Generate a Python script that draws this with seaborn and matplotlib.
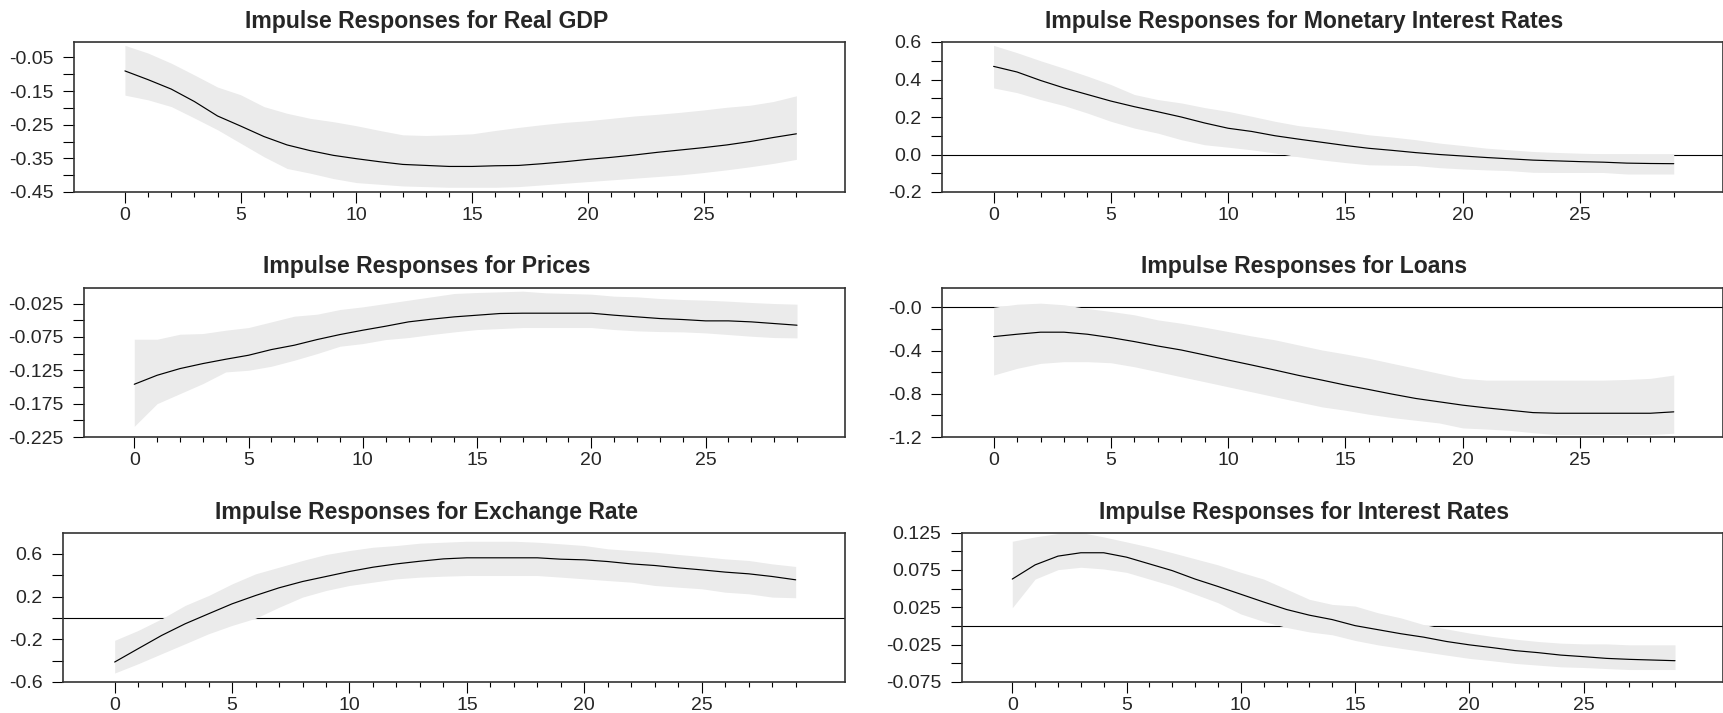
import matplotlib
matplotlib.use("Agg")
import matplotlib.pyplot as plt
import seaborn as sns

# horizon (periods after the shock)
horizon = list(range(30))

titles = [
    "Impulse Responses for Real GDP",
    "Impulse Responses for Monetary Interest Rates",
    "Impulse Responses for Prices",
    "Impulse Responses for Loans",
    "Impulse Responses for Exchange Rate",
    "Impulse Responses for Interest Rates",
]

# Real GDP
gdp_resp = [-0.090, -0.116, -0.144, -0.181, -0.224, -0.254, -0.285, -0.310, -0.327, -0.341,
            -0.351, -0.360, -0.368, -0.371, -0.374, -0.374, -0.372, -0.371, -0.366, -0.360,
            -0.353, -0.347, -0.340, -0.332, -0.325, -0.318, -0.310, -0.300, -0.288, -0.277]
gdp_hi = [-0.014, -0.037, -0.067, -0.102, -0.138, -0.161, -0.196, -0.216, -0.231, -0.241,
          -0.253, -0.267, -0.280, -0.282, -0.280, -0.277, -0.267, -0.258, -0.250, -0.243,
          -0.238, -0.231, -0.224, -0.219, -0.213, -0.206, -0.198, -0.192, -0.181, -0.164]
gdp_lo = [-0.162, -0.176, -0.196, -0.230, -0.265, -0.305, -0.345, -0.380, -0.394, -0.410,
          -0.422, -0.427, -0.432, -0.434, -0.436, -0.436, -0.436, -0.434, -0.429, -0.424,
          -0.419, -0.414, -0.409, -0.404, -0.399, -0.392, -0.384, -0.375, -0.365, -0.353]

# Monetary interest rates
mon_resp = [0.470, 0.440, 0.395, 0.355, 0.320, 0.285, 0.255, 0.228, 0.200, 0.168,
            0.140, 0.123, 0.100, 0.082, 0.065, 0.048, 0.033, 0.022, 0.010, 0.000,
            -0.008, -0.016, -0.023, -0.030, -0.034, -0.038, -0.041, -0.046, -0.048, -0.049]
mon_hi = [0.582, 0.543, 0.500, 0.460, 0.418, 0.373, 0.320, 0.293, 0.275, 0.250,
          0.230, 0.204, 0.177, 0.154, 0.140, 0.123, 0.105, 0.093, 0.079, 0.061,
          0.048, 0.034, 0.025, 0.016, 0.011, 0.007, 0.004, 0.004, 0.003, 0.003]
mon_lo = [0.355, 0.330, 0.293, 0.261, 0.221, 0.177, 0.141, 0.114, 0.079, 0.052,
          0.039, 0.025, 0.008, -0.012, -0.029, -0.043, -0.055, -0.057, -0.059, -0.070,
          -0.077, -0.082, -0.086, -0.095, -0.096, -0.096, -0.096, -0.104, -0.104, -0.104]

# Prices
price_resp = [-0.146, -0.1325, -0.1225, -0.115, -0.1085, -0.1025, -0.094, -0.0875, -0.079, -0.0715,
              -0.065, -0.059, -0.0525, -0.0485, -0.045, -0.0425, -0.040, -0.0395, -0.0395, -0.0395,
              -0.0395, -0.0425, -0.045, -0.0475, -0.049, -0.051, -0.051, -0.0525, -0.055, -0.0575]
price_hi = [-0.0785, -0.0785, -0.071, -0.070, -0.065, -0.061, -0.0525, -0.044, -0.041, -0.034,
            -0.030, -0.025, -0.020, -0.015, -0.010, -0.0085, -0.0075, -0.0065, -0.009, -0.010,
            -0.011, -0.014, -0.015, -0.0175, -0.019, -0.020, -0.0215, -0.0235, -0.025, -0.026]
price_lo = [-0.209, -0.175, -0.160, -0.145, -0.1275, -0.125, -0.119, -0.110, -0.100, -0.089,
            -0.085, -0.079, -0.076, -0.0715, -0.0675, -0.064, -0.0625, -0.061, -0.061, -0.061,
            -0.061, -0.064, -0.066, -0.067, -0.0675, -0.069, -0.0715, -0.074, -0.076, -0.0765]

# Loans
loan_resp = [-0.270, -0.248, -0.229, -0.229, -0.248, -0.279, -0.316, -0.357, -0.394, -0.440,
             -0.487, -0.533, -0.580, -0.629, -0.673, -0.719, -0.760, -0.803, -0.843, -0.874,
             -0.905, -0.930, -0.952, -0.974, -0.980, -0.980, -0.980, -0.980, -0.980, -0.967]
loan_hi = [0.002, 0.030, 0.040, 0.025, -0.010, -0.037, -0.068, -0.115, -0.146, -0.183,
           -0.223, -0.264, -0.300, -0.347, -0.394, -0.431, -0.471, -0.518, -0.564, -0.611,
           -0.657, -0.673, -0.673, -0.673, -0.673, -0.673, -0.673, -0.667, -0.657, -0.626]
loan_lo = [-0.626, -0.564, -0.518, -0.502, -0.502, -0.512, -0.549, -0.595, -0.642, -0.688,
           -0.735, -0.781, -0.828, -0.874, -0.921, -0.952, -0.989, -1.020, -1.045, -1.070,
           -1.116, -1.126, -1.138, -1.160, -1.178, -1.178, -1.178, -1.178, -1.178, -1.165]

# Exchange rate
fx_resp = [-0.413, -0.288, -0.164, -0.055, 0.039, 0.132, 0.210, 0.282, 0.341, 0.388,
           0.435, 0.475, 0.506, 0.531, 0.553, 0.563, 0.563, 0.563, 0.563, 0.550,
           0.544, 0.528, 0.506, 0.491, 0.469, 0.450, 0.429, 0.413, 0.388, 0.357]
fx_hi = [-0.210, -0.117, -0.008, 0.117, 0.210, 0.319, 0.413, 0.475, 0.538, 0.594,
         0.631, 0.662, 0.678, 0.700, 0.709, 0.718, 0.718, 0.718, 0.709, 0.694,
         0.678, 0.647, 0.631, 0.616, 0.594, 0.575, 0.553, 0.538, 0.506, 0.482]
fx_lo = [-0.516, -0.429, -0.335, -0.242, -0.148, -0.070, -0.003, 0.100, 0.195, 0.257,
         0.304, 0.335, 0.366, 0.382, 0.391, 0.397, 0.397, 0.397, 0.397, 0.382,
         0.366, 0.350, 0.335, 0.304, 0.288, 0.273, 0.241, 0.226, 0.195, 0.189]

# Interest rates
ir_resp = [0.0627, 0.0817, 0.0934, 0.0979, 0.0979, 0.0920, 0.0830, 0.0740, 0.0627, 0.0528,
           0.0424, 0.0320, 0.0220, 0.0144, 0.0085, 0.0004, -0.0050, -0.0104, -0.0150, -0.0208,
           -0.0253, -0.0290, -0.0330, -0.0357, -0.0390, -0.0411, -0.0434, -0.0447, -0.0456, -0.0465]
ir_hi = [0.1133, 0.1191, 0.1236, 0.1250, 0.1191, 0.1124, 0.1056, 0.0980, 0.0898, 0.0817,
         0.0717, 0.0627, 0.0492, 0.0356, 0.0288, 0.0266, 0.0176, 0.0108, 0.0018, -0.0040,
         -0.0095, -0.0140, -0.0177, -0.0208, -0.0230, -0.0240, -0.0240, -0.0253, -0.0253, -0.0253]
ir_lo = [0.0243, 0.0627, 0.0753, 0.0785, 0.0762, 0.0717, 0.0627, 0.0537, 0.0424, 0.0311,
         0.0160, 0.0060, -0.0020, -0.0080, -0.0118, -0.0194, -0.0253, -0.0299, -0.0344, -0.0390,
         -0.0434, -0.0466, -0.0501, -0.0524, -0.0547, -0.0556, -0.0570, -0.0583, -0.0583, -0.0583]

# y axis ticks / labels per panel
gdp_yticks = [-0.45, -0.35, -0.25, -0.15, -0.05]
gdp_ylabels = ["-0.45", "-0.35", "-0.25", "-0.15", "-0.05"]
mon_yticks = [-0.2, 0.0, 0.2, 0.4, 0.6]
mon_ylabels = ["-0.2", "0.0", "0.2", "0.4", "0.6"]
price_yticks = [-0.225, -0.175, -0.125, -0.075, -0.025]
price_ylabels = ["-0.225", "-0.175", "-0.125", "-0.075", "-0.025"]
loan_yticks = [-1.2, -0.8, -0.4, 0.0]
loan_ylabels = ["-1.2", "-0.8", "-0.4", "-0.0"]
fx_yticks = [-0.6, -0.2, 0.2, 0.6]
fx_ylabels = ["-0.6", "-0.2", "0.2", "0.6"]
ir_yticks = [-0.075, -0.025, 0.025, 0.075, 0.125]
ir_ylabels = ["-0.075", "-0.025", "0.025", "0.075", "0.125"]

sns.set_style("white")
plt.rcParams['font.family'] = ['Liberation Sans', 'DejaVu Sans']

W, H = 1724, 713
fig = plt.figure(figsize=(W / 100, H / 100), dpi=100)

# (left, right, top, bottom) of every plot frame in pixels, plus y-limits
panels = [
    (titles[0], gdp_resp, gdp_lo, gdp_hi, gdp_yticks, gdp_ylabels, (-0.45, -0.004), (74, 845, 42, 192)),
    (titles[1], mon_resp, mon_lo, mon_hi, mon_yticks, mon_ylabels, (-0.2, 0.6), (942, 1723, 42, 192)),
    (titles[2], price_resp, price_lo, price_hi, price_yticks, price_ylabels, (-0.225, -0.001), (84, 845, 287.5, 437)),
    (titles[3], loan_resp, loan_lo, loan_hi, loan_yticks, loan_ylabels, (-1.2, 0.185), (942, 1723, 287.5, 437)),
    (titles[4], fx_resp, fx_lo, fx_hi, fx_yticks, fx_ylabels, (-0.6, 0.8), (63, 845, 532.5, 682)),
    (titles[5], ir_resp, ir_lo, ir_hi, ir_yticks, ir_ylabels, (-0.075, 0.125), (962, 1723, 532.5, 682)),
]

for i, (title, resp, lo, hi, yt, yl, ylim, box) in enumerate(panels):
    l, r, t, b = box
    ax = fig.add_axes([l / W, 1 - b / H, (r - l) / W, (b - t) / H])

    # zero line sits under the confidence band
    ax.axhline(0, color="black", lw=0.8, zorder=1)
    ax.fill_between(horizon, lo, hi, color="#ebebeb", lw=0, zorder=2)
    sns.lineplot(x=horizon, y=resp, ax=ax, color="black", lw=0.85, zorder=3)

    ax.set_xlim(-2.2, 31.1)
    ax.set_ylim(*ylim)
    ax.set_xticks(range(0, 30, 5))
    ax.set_xticks(range(30), minor=True)
    step = yt[1] - yt[0]
    ax.set_yticks(yt)
    ax.set_yticklabels(yl)
    ax.set_yticks([v + step / 2 for v in yt[:-1]], minor=True)

    ax.tick_params(axis="x", which="major", length=8, width=0.8, direction="out",
                   labelsize=14, pad=3, color="black")
    ax.tick_params(axis="x", which="minor", length=3.6, width=0.8, direction="out", color="black")
    ax.tick_params(axis="y", which="both", length=7.7, width=0.8, direction="out",
                   labelsize=14, pad=7, color="black")
    ax.tick_params(bottom=True, left=True, which="both")
    for s in ax.spines.values():
        s.set_visible(True)
        s.set_color("#333333")
        s.set_linewidth(1.2)
    ax.set_xlabel("")
    ax.set_ylabel("")

    cx = 427 if i % 2 == 0 else 1304
    fig.text(cx / W, 1 - (t - 14) / H, title, ha="center", va="baseline",
             fontsize=16.6, fontweight="bold")

fig.savefig("out.png", dpi=100)
